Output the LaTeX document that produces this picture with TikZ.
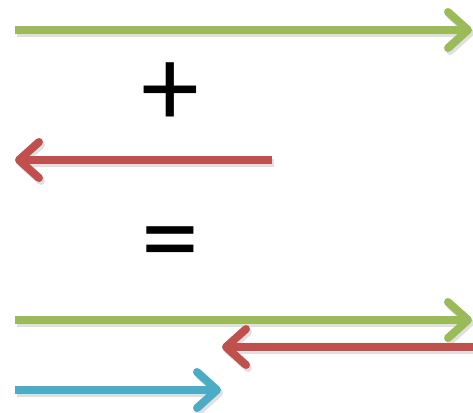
\documentclass[tikz,border=0pt]{standalone}
\usepackage{fontspec}
\setmainfont{Carlito}
\usetikzlibrary{arrows.meta}
\definecolor{ogreen}{HTML}{9BBB59}
\definecolor{ored}{HTML}{C0504D}
\definecolor{oblue}{HTML}{4BACC6}
\tikzset{
  vec/.style={line width=8pt, -{Straight Barb[length=20pt, width=36pt, round]}},
  shad/.style={vec, draw=black, opacity=0.12, transform canvas={shift={(2pt,-3pt)}}},
  sym/.style={font=\fontsize{116}{116}\selectfont, inner sep=0pt},
}
\begin{document}
\begin{tikzpicture}[x=1pt, y=-1pt]
\useasboundingbox (0,0) rectangle (473,412);
\coordinate (g1s) at (15,30);  \coordinate (g1e) at (472,30);
\coordinate (r1s) at (272,160); \coordinate (r1e) at (15,160);
\coordinate (g2s) at (15,320); \coordinate (g2e) at (472,320);
\coordinate (r2s) at (480,347); \coordinate (r2e) at (222,347);
\coordinate (b1s) at (15,390); \coordinate (b1e) at (221,390);
\foreach \a/\b in {g1s/g1e, r1s/r1e, g2s/g2e, r2s/r2e, b1s/b1e}
  \draw[shad] (\a) -- (\b);
\draw[vec, ogreen] (g1s) -- (g1e);
\draw[vec, ored] (r1s) -- (r1e);
\draw[vec, ogreen] (g2s) -- (g2e);
\draw[vec, ored] (r2s) -- (r2e);
\draw[vec, oblue] (b1s) -- (b1e);
\node[sym] (plus) at (170,95) {+};
\node[sym] (eq) at (170,252) {=};
\end{tikzpicture}
\end{document}
